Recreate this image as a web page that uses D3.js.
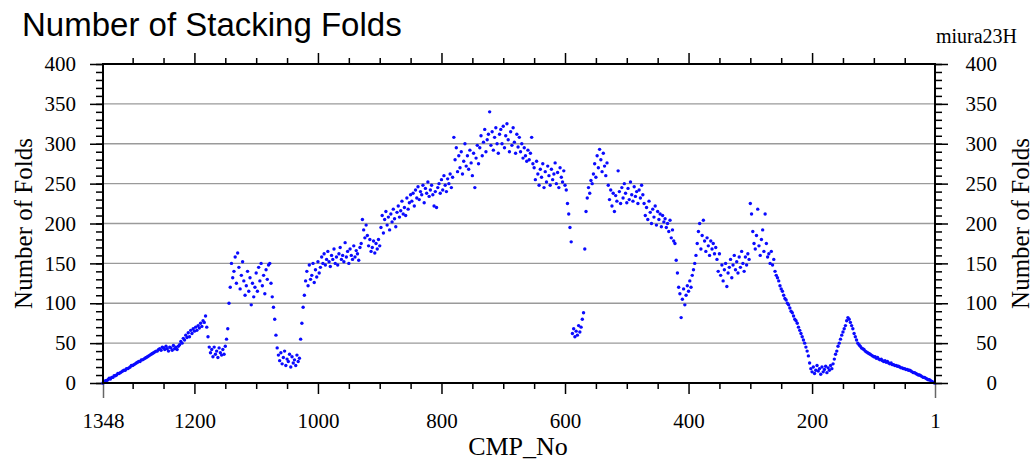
<!DOCTYPE html>
<html>
<head>
<meta charset="utf-8">
<script src="https://cdn.jsdelivr.net/npm/d3@7"></script>
<style>
  html, body { margin: 0; padding: 0; background: #fff; }
  svg { display: block; }
</style>
</head>
<body>
<svg id="chart" width="1034" height="465"></svg>
<script>
// ---- data ----
// CMP numbers step by 2 inside each run; segStart gives the first CMP of each run
const cmpStep = 2;
const segStart = [1348, 1256, 1224, 1180, 1148, 1140, 1078, 1066, 1028, 1018, 996, 930, 898, 848, 780, 738, 704, 672, 650, 598, 588, 568, 554, 530, 472, 434, 420, 400, 386, 354, 300, 260, 238, 210, 202, 164, 140, 124, 98, 68, 44];
// number of folds, one run per segStart entry
const foldRuns = [
  [0,1,3,3,4,6,5,7,7,9,9,10,12,12,13,14,15,16,16,18,18,19,20,22,22,23,24,25,26,27,27,29,29,30,31,32,33,34,35,36,37,38,39,40,40,42],
  [43,41,45,44,42,46,43,40,45,44,41,47,43,45,42,46],
  [48,52,50,56,54,60,57,63,58,66,62,68,65,70,66,72,69,75,71,78,76,84],
  [70,58,45,38,42,33,45,36,40,32,44,38,35,42,36,46],
  [55,68,100,120],
  [150,132,140,158,125,163,145,118,135,152,128,110,122,140,115,132,98,125,108,120,138,115,145,128,150,122,135,112,142,130,148],
  [150,125,108,95,80,60],
  [44,35,28,38,24,32,40,22,30,27,36,20,33,25,29,22,35,27,31],
  [55,75,95,110,128],
  [140,122,148,130,135,150,126,142,133,152,138],
  [145,158,150,162,148,155,165,152,146,160,155,168,150,158,148,162,170,155,160,152,176,158,165,150,168,160,155,172,158,166,162,154,170],
  [175,205,192,182,198,185,172,180,165,170,178,163,175,168,180,172],
  [195,210,188,205,215,198,208,192,212,202,218,206,196,214,222,208,216,228,212,220,210,232,218,226,236],
  [228,238,222,242,232,246,230,240,236,248,226,244,238,252,234,242,248,236,222,240,220,245,250,238,255,242,260,248,240,256,250,262,245,258],
  [308,280,295,265,285,270,290,262,278,300,272,285,268,292,276,260,288,245,282,298,275],
  [295,310,285,302,318,290,305,312,340,298,315,292,308,320,300,288,312],
  [318,300,322,295,310,325,305,290,315,298,320,302,288,312,296,308],
  [290,300,282,295,285,278,292,280,288,308,275],
  [270,255,278,262,248,268,258,275,245,265,252,272,260,248,268,255,262,276,250,264,245,270,258,252,266,248],
  [242,225,212,195,177],
  [62,68,58,65,60,72,64,70,80,88],
  [168,215,232,245,238,254,250],
  [262,275,258,285,270,293,280,265,288,272,260,276],
  [248,230,242,222,238,215,235,228,266,240,225,245,232,250,238,226,244,230,252,236,228,246,234,240,225,242,232,248,236],
  [225,210,220,205,228,214,200,218,208,222,198,215,205,212,196,210,202,206,195],
  [200,190,204,182,192,178,175],
  [154,138,120,112,82,105,118,98,110,122],
  [115,128,120,135,142,150,160],
  [175,190,200,168,185,204,178,165,182,172,160,178,168,175,162,170],
  [155,140,162,135,148,128,142,150,121,138,145,155,132,148,160,142,152,138,158,145,165,150,140,158,148,162,155],
  [225,212,190,175,168,185,218,172,160,180,192,165,212,175,158,162,150,165,148,155],
  [140,135,132,128,122,118,115,110,106,104,100],
  [98,94,90,88,84,80,78,75,70,66,62,58,54,50],
  [45,40,34,25],
  [18,14,20,12,16,22,15,18,11,20,14,17,21,13,19,16,22,18,24],
  [30,36,40,46,50,55,60,64,68,72,78,82],
  [80,76,72,68,62,58,54,50],
  [48,46,44,43,42,40,39,38,37,36,35,34,33],
  [33,31,32,30,29,30,28,27,28,26,27,25,24,25,23],
  [23,22,22,21,21,20,19,19,18,18,17,17],
  [16,16,15,14,13,13,12,11,10,10,9,8,7,7,6,5,4,4,3,2,1,0]
];
const xMajorTicks = [1348, 1200, 1000, 800, 600, 400, 200, 1];
const xMinorTicks = [1300, 1250, 1150, 1100, 1050, 950, 900, 850, 750, 700, 650, 550, 500, 450, 350, 300, 250, 150, 100, 50];
const yMajorTicks = [0, 50, 100, 150, 200, 250, 300, 350, 400];
const yGridTicks = [50, 100, 150, 200, 250, 300, 350];
const yMinorTicks = d3.range(0, 401, 10);
const titleText = "Number of Stacking Folds";
const tagText = "miura23H";
const yTitle = "Number of Folds";
const xTitle = "CMP_No";

const points = [];
foldRuns.forEach((run, s) => run.forEach((v, j) => points.push({ cmp: segStart[s] - j * cmpStep, v })));

// ---- layout ----
const L = 103, R = 935, T = 64, B = 383;
const serif = '"Liberation Serif", "Times New Roman", Times, serif';
const sans = '"Liberation Sans", Arial, Helvetica, sans-serif';

const svg = d3.select("#chart");
const x = d3.scaleLinear().domain([1348, 1]).range([L, R]);
const y = d3.scaleLinear().domain([0, 400]).range([B, T]);

// grid
svg.append("g").selectAll("line").data(yGridTicks).join("line")
  .attr("x1", L).attr("x2", R)
  .attr("y1", d => y(d)).attr("y2", d => y(d))
  .attr("stroke", "#9a9a9a").attr("stroke-width", 1.3);

function styleAxis(g) {
  g.select(".domain").remove();
  g.selectAll(".tick line").attr("stroke", "#000").attr("stroke-width", 1.5);
  g.selectAll("text").attr("font-family", serif).attr("font-size", 21).attr("fill", "#000");
}

// bottom axis
svg.append("g").attr("transform", `translate(0,${B})`)
  .call(d3.axisBottom(x).tickValues(xMinorTicks).tickSize(6).tickFormat(""))
  .call(styleAxis);
const bAxis = svg.append("g").attr("transform", `translate(0,${B})`)
  .call(d3.axisBottom(x).tickValues(xMajorTicks).tickSize(11).tickPadding(19).tickFormat(d3.format("d")))
  .call(styleAxis);
bAxis.selectAll(".tick").filter(d => d === 1348 || d === 1)
  .select("line").attr("y2", 15).attr("stroke", "#666");

// top axis
svg.append("g").attr("transform", `translate(0,${T})`)
  .call(d3.axisTop(x).tickValues(xMinorTicks).tickSize(6).tickFormat(""))
  .call(styleAxis);
svg.append("g").attr("transform", `translate(0,${T})`)
  .call(d3.axisTop(x).tickValues(xMajorTicks.filter(d => d !== 1348 && d !== 1)).tickSize(11).tickFormat(""))
  .call(styleAxis);

// left axis
svg.append("g").attr("transform", `translate(${L},0)`)
  .call(d3.axisLeft(y).tickValues(yMinorTicks).tickSize(7).tickFormat(""))
  .call(styleAxis);
svg.append("g").attr("transform", `translate(${L},0)`)
  .call(d3.axisLeft(y).tickValues(yMajorTicks).tickSize(13).tickPadding(14).tickFormat(d3.format("d")))
  .call(styleAxis);

// right axis
svg.append("g").attr("transform", `translate(${R},0)`)
  .call(d3.axisRight(y).tickValues(yMinorTicks).tickSize(7).tickFormat(""))
  .call(styleAxis);
const rAxis = svg.append("g").attr("transform", `translate(${R},0)`)
  .call(d3.axisRight(y).tickValues(yMajorTicks).tickSize(13).tickFormat(d3.format("d")))
  .call(styleAxis);
rAxis.selectAll("text").attr("text-anchor", "end").attr("x", 62);

// dots
svg.append("g").selectAll("circle").data(points).join("circle")
  .attr("cx", d => x(d.cmp)).attr("cy", d => y(d.v))
  .attr("r", 1.7).attr("fill", "#0a0aff");

// frame
svg.append("rect").attr("x", L).attr("y", T).attr("width", R - L).attr("height", B - T)
  .attr("fill", "none").attr("stroke", "#000").attr("stroke-width", 2);

// texts
svg.append("text").attr("x", 22).attr("y", 36)
  .attr("font-family", sans).attr("font-size", 33).attr("fill", "#000").text(titleText);
svg.append("text").attr("x", 1017).attr("y", 43).attr("text-anchor", "end")
  .attr("font-family", serif).attr("font-size", 20).attr("fill", "#000").text(tagText);
svg.append("text").attr("transform", `translate(32,${(T + B) / 2}) rotate(-90)`)
  .attr("text-anchor", "middle").attr("font-family", serif).attr("font-size", 25).attr("fill", "#000").text(yTitle);
svg.append("text").attr("transform", `translate(1029,${(T + B) / 2}) rotate(-90)`)
  .attr("text-anchor", "middle").attr("font-family", serif).attr("font-size", 25).attr("fill", "#000").text(yTitle);
svg.append("text").attr("x", (L + R) / 2 - 1).attr("y", 455).attr("text-anchor", "middle")
  .attr("font-family", serif).attr("font-size", 26).attr("fill", "#000").text(xTitle);
</script>
</body>
</html>
